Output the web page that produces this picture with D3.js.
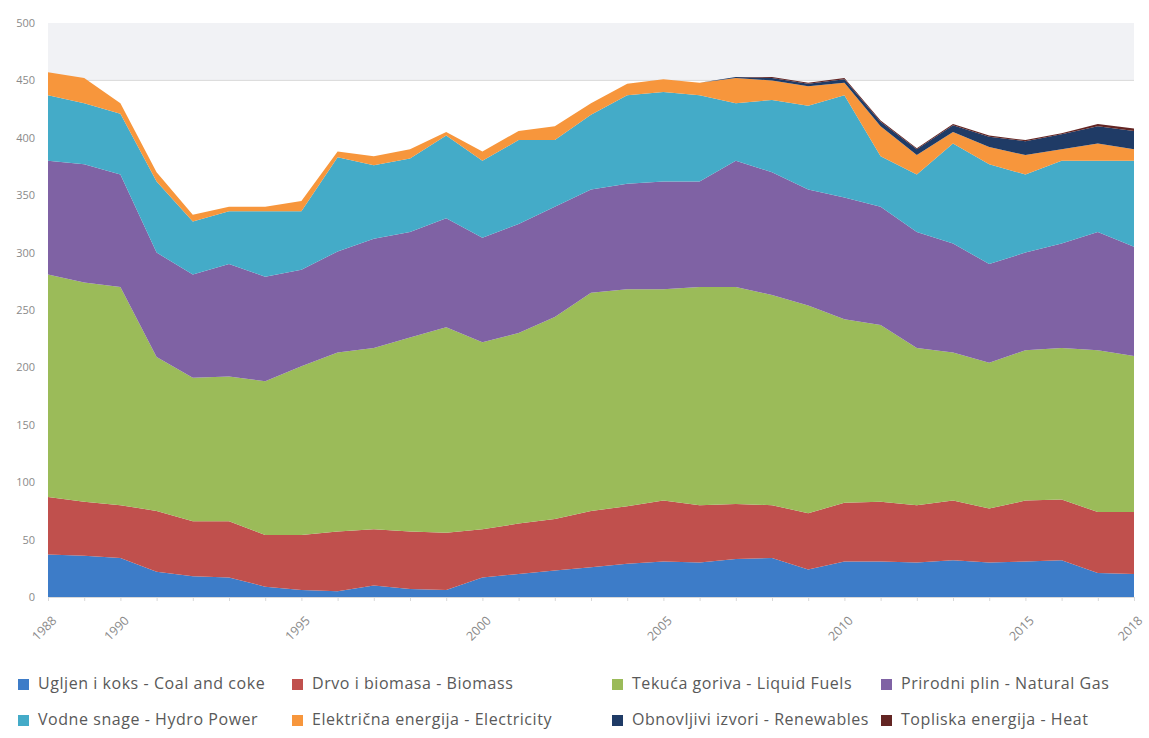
<!DOCTYPE html>
<html>
<head>
<meta charset="utf-8">
<script src="https://cdn.jsdelivr.net/npm/d3@7"></script>
<style>
  html, body { margin: 0; padding: 0; background: #ffffff; }
  svg { display: block; }
</style>
</head>
<body>
<svg id="chart" width="1149" height="738"></svg>
<script>
// Final energy consumption by source, 1988–2018
const years = d3.range(1988, 2019);

const coal        = [37,36,34,22,18,17,9,6,5,10,7,6,17,20,23,26,29,31,30,33,34,24,31,31,30,32,30,31,32,21,20];
const biomass     = [50,47,46,53,48,49,45,48,52,49,50,50,42,44,45,49,50,53,50,48,46,49,51,52,50,52,47,53,53,53,54];
const liquid      = [194,191,190,134,125,126,134,147,156,158,169,179,163,166,176,190,189,184,190,189,183,181,160,154,137,129,127,131,132,141,136];
const gas         = [99,103,98,91,90,98,91,84,88,95,92,95,91,95,96,90,92,94,92,110,107,101,106,103,101,95,86,85,91,103,95];
const hydro       = [57,53,53,62,46,46,57,51,82,64,64,72,67,73,58,65,77,78,75,50,63,73,89,44,50,87,87,68,72,62,75];
const electricity = [20,22,9,8,6,4,4,9,5,8,8,3,8,8,12,10,10,11,11,22,17,17,11,26,17,10,15,17,10,15,10];
const renewables  = [0,0,0,0,0,0,0,0,0,0,0,0,0,0,0,0,0,0,0,1,2,2,3,4,5,6,9,12,13,15,16];
const heat        = [0,0,0,0,0,0,0,0,0,0,0,0,0,0,0,0,0,0,0,0,1,1,1,1,1,1,1,1,1,2,2];

const seriesKeys = ["coal","biomass","liquid","gas","hydro","electricity","renewables","heat"];
const seriesNames = [
  "Ugljen i koks - Coal and coke",
  "Drvo i biomasa - Biomass",
  "Tekuća goriva - Liquid Fuels",
  "Prirodni plin - Natural Gas",
  "Vodne snage - Hydro Power",
  "Električna energija - Electricity",
  "Obnovljivi izvori - Renewables",
  "Topliska energija - Heat"
];
const seriesColors = ["#3d7cc8","#c0504d","#9bbb59","#7f62a4","#44abc8","#f7963c","#1f3b66","#632523"];

const yTicks = [0,50,100,150,200,250,300,350,400,450,500];
const xTickYears = [1988,1990,1995,2000,2005,2010,2015,2018];

const seriesValues = {coal, biomass, liquid, gas, hydro, electricity, renewables, heat};
const table = years.map((y, i) => {
  const row = {year: y};
  seriesKeys.forEach(k => row[k] = seriesValues[k][i]);
  return row;
});

const svg = d3.select("#chart");
const plot = {left: 48, right: 1134, top: 23, bottom: 597};

const x = d3.scaleLinear().domain([1988, 2018]).range([plot.left, plot.right]);
const y = d3.scaleLinear().domain([0, 500]).range([plot.bottom, plot.top]);

// light band at the top of the plot area
svg.append("rect")
  .attr("x", x(1988)).attr("y", y(500))
  .attr("width", x(2018) - x(1988)).attr("height", y(450) - y(500))
  .attr("fill", "#f1f2f5");

svg.append("line")
  .attr("x1", x(1988)).attr("x2", x(2018))
  .attr("y1", y(450)).attr("y2", y(450))
  .attr("stroke", "#d9d9d9").attr("stroke-width", 1);

const layers = d3.stack().keys(seriesKeys)(table);

const area = d3.area()
  .x(d => x(d.data.year))
  .y0(d => y(d[0]))
  .y1(d => y(d[1]));

svg.append("g").selectAll("path")
  .data(layers)
  .join("path")
  .attr("d", area)
  .attr("fill", (d, i) => seriesColors[i]);

// y axis
const yAxis = d3.axisLeft(y).tickValues(yTicks).tickSize(0).tickPadding(13);
const gy = svg.append("g").attr("transform", `translate(${x(1988)},0)`).call(yAxis);
gy.select(".domain").remove();
gy.selectAll("text")
  .attr("font-family", "Open Sans, sans-serif")
  .attr("font-size", 11)
  .attr("fill", "#8a8a8a");

// x axis with yearly ticks
const gx = svg.append("g").attr("transform", `translate(0,${y(0)})`)
  .call(d3.axisBottom(x).tickValues(years).tickSize(4).tickFormat(""));
gx.select(".domain").attr("stroke", "#d9d9d9");
gx.selectAll(".tick line").attr("stroke", "#d9d9d9");

svg.append("g").selectAll("text")
  .data(xTickYears)
  .join("text")
  .attr("transform", d => `translate(${x(d) + 2},${y(0) + 17}) rotate(-45)`)
  .attr("text-anchor", "end")
  .attr("dominant-baseline", "hanging")
  .attr("font-family", "Open Sans, sans-serif")
  .attr("font-size", 12.5)
  .attr("fill", "#8a8a8a")
  .text(d => d);

// legend
const legendCols = [18, 292, 612, 881];
const legendRows = [685, 721];
const lg = svg.append("g").selectAll("g")
  .data(seriesNames)
  .join("g")
  .attr("transform", (d, i) => `translate(${legendCols[i % 4]},${legendRows[Math.floor(i / 4)]})`);
lg.append("rect").attr("x", 0).attr("y", -6).attr("width", 11).attr("height", 11)
  .attr("fill", (d, i) => seriesColors[i]);
lg.append("text").attr("x", 20).attr("y", 0)
  .attr("dominant-baseline", "middle")
  .attr("font-family", "Open Sans, sans-serif")
  .attr("font-size", 16)
  .attr("letter-spacing", 0.55)
  .attr("fill", "#595959")
  .text(d => d);
</script>
</body>
</html>
